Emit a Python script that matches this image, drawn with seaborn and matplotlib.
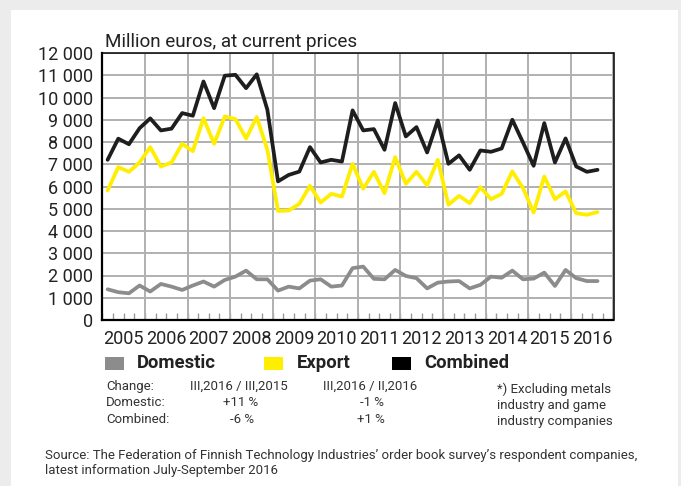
import numpy as np
import pandas as pd
import matplotlib
matplotlib.use("Agg")
import matplotlib.pyplot as plt
from matplotlib.patches import Rectangle
import seaborn as sns

# quarterly order book, 2005 Q1 .. 2016 Q3 (million euros)
years = list(range(2005, 2017))
domestic = [1380, 1250, 1200, 1550, 1280, 1620, 1500, 1350, 1550, 1730, 1500, 1800,
            1950, 2220, 1830, 1830, 1320, 1500, 1420, 1770, 1830, 1500, 1550, 2330,
            2400, 1850, 1830, 2250, 1980, 1880, 1420, 1680, 1730, 1750, 1420, 1580,
            1950, 1900, 2220, 1830, 1860, 2130, 1530, 2250, 1880, 1750, 1750]
export = [5820, 6870, 6660, 7080, 7770, 6900, 7080, 7920, 7590, 9070, 7920, 9150,
          9030, 8160, 9120, 7650, 4900, 4920, 5220, 6030, 5280, 5670, 5550, 7020,
          5900, 6660, 5700, 7320, 6120, 6660, 6050, 7200, 5180, 5580, 5250, 5970,
          5430, 5670, 6680, 5930, 4830, 6450, 5430, 5780, 4800, 4730, 4850]
combined = [7200, 8150, 7900, 8620, 9060, 8520, 8600, 9300, 9180, 10720, 9520, 10980,
            11020, 10420, 11040, 9450, 6230, 6520, 6670, 7770, 7080, 7200, 7120, 9420,
            8520, 8580, 7650, 9750, 8250, 8670, 7530, 8970, 7020, 7400, 6750, 7620,
            7560, 7710, 9000, 7980, 6930, 8850, 7080, 8160, 6900, 6660, 6750]
series_names = ["Domestic", "Export", "Combined"]
colors = ["#8c8c8c", "#ffee00", "#1e1e1e"]
legend_colors = ["#8c8c8c", "#ffee00", "#000000"]

n = len(combined)
quarter_pos = np.arange(n) + 0.5
df = pd.concat([
    pd.DataFrame({"q": quarter_pos, "value": vals, "series": name})
    for name, vals in zip(series_names, [domestic, export, combined])
])

sns.set_style("white")
plt.rcParams["font.family"] = ["Roboto", "DejaVu Sans"]

W, H = 681, 486
fig = plt.figure(figsize=(W / 100, H / 100), dpi=100, facecolor="#ececec")
fig.patches.append(Rectangle((11 / W, 0), (678 - 11) / W, 1 - 10 / H,
                             transform=fig.transFigure, facecolor="white",
                             edgecolor="none", zorder=-1))

ax = fig.add_axes([102.3 / W, 1 - 320 / H, (613.5 - 102.3) / W, (320 - 53) / H])

sns.lineplot(data=df, x="q", y="value", hue="series", palette=colors,
             hue_order=series_names, linewidth=2.7, legend=False, ax=ax, zorder=3)

ax.set_xlim(0, 4 * len(years))
ax.set_ylim(0, 12000)
ax.set_xlabel("")
ax.set_ylabel("")

# y axis
yt = np.arange(0, 12001, 1000)
ax.set_yticks(yt)
ax.set_yticklabels([f"{v:,}".replace(",", " ") for v in yt], fontsize=13, color="#222222")
ax.tick_params(axis="y", length=0, pad=6.5)
ax.grid(axis="y", color="#b0b0b0", linewidth=1.4)

# x axis: quarter marks inside, year labels centred
ax.xaxis.remove_overlapping_locs = False
ax.set_xticks(np.arange(0, 4 * len(years) + 1))
ax.set_xticklabels([])
ax.tick_params(axis="x", which="major", bottom=True, direction="in", length=5,
               color="#9a9a9a", width=1)
ax.set_xticks(np.arange(len(years)) * 4 + 2, minor=True)
ax.set_xticklabels([str(y) for y in years], minor=True, fontsize=13, color="#222222")
ax.tick_params(axis="x", which="minor", bottom=True, length=0, pad=7)
for b in range(0, 4 * len(years) + 1, 4):
    ax.axvline(b, color="#b0b0b0", linewidth=1.4, zorder=1)

for side in ["left", "bottom"]:
    ax.spines[side].set_linewidth(1.6)
    ax.spines[side].set_color("black")
for side in ["top", "right"]:
    ax.spines[side].set_linewidth(1.1)
    ax.spines[side].set_color("black")


def px(x, y):
    return x / W, 1 - y / H


fig.text(*px(105, 47), "Million euros, at current prices", fontsize=13.6,
         color="#222222", va="baseline", ha="left")

# legend
leg_items = [(105, 137), (264, 297), (392, 424)]
for (sx, tx), name, c in zip(leg_items, series_names, legend_colors):
    fig.patches.append(Rectangle(px(sx, 370), 19 / W, 13 / H, transform=fig.transFigure,
                                 facecolor=c, edgecolor="none"))
    fig.text(*px(tx, 363.5), name, fontsize=13.3, fontweight="bold",
             color="#222222", va="center", ha="left")

# change table
small = dict(fontsize=9.5, color="#333333", va="center")
rows_y = [386, 402, 419]
fig.text(*px(106, rows_y[0]), "Change:", ha="left", **small)
fig.text(*px(106, rows_y[1]), "Domestic:", ha="left", **small)
fig.text(*px(106, rows_y[2]), "Combined:", ha="left", **small)
fig.text(*px(238.5, rows_y[0]), "III,2016 / III,2015", ha="center", **small)
fig.text(*px(241, rows_y[1]), "+11 %", ha="center", **small)
fig.text(*px(242, rows_y[2]), "-6 %", ha="center", **small)
fig.text(*px(370, rows_y[0]), "III,2016 / II,2016", ha="center", **small)
fig.text(*px(371.5, rows_y[1]), "-1 %", ha="center", **small)
fig.text(*px(371, rows_y[2]), "+1 %", ha="center", **small)

note = dict(fontsize=9.5, color="#333333", va="center", ha="left")
fig.text(*px(497, 389), "*) Excluding metals", **note)
fig.text(*px(497, 405), "industry and game", **note)
fig.text(*px(497, 421), "industry companies", **note)

src = dict(fontsize=9.5, color="#333333", va="center", ha="left")
fig.text(*px(45, 455), "Source: The Federation of Finnish Technology Industries\u2019 "
         "order book survey\u2019s respondent companies,", **src)
fig.text(*px(45, 470), "latest information July-September 2016", **src)

fig.savefig("out.png", dpi=100, facecolor=fig.get_facecolor())
